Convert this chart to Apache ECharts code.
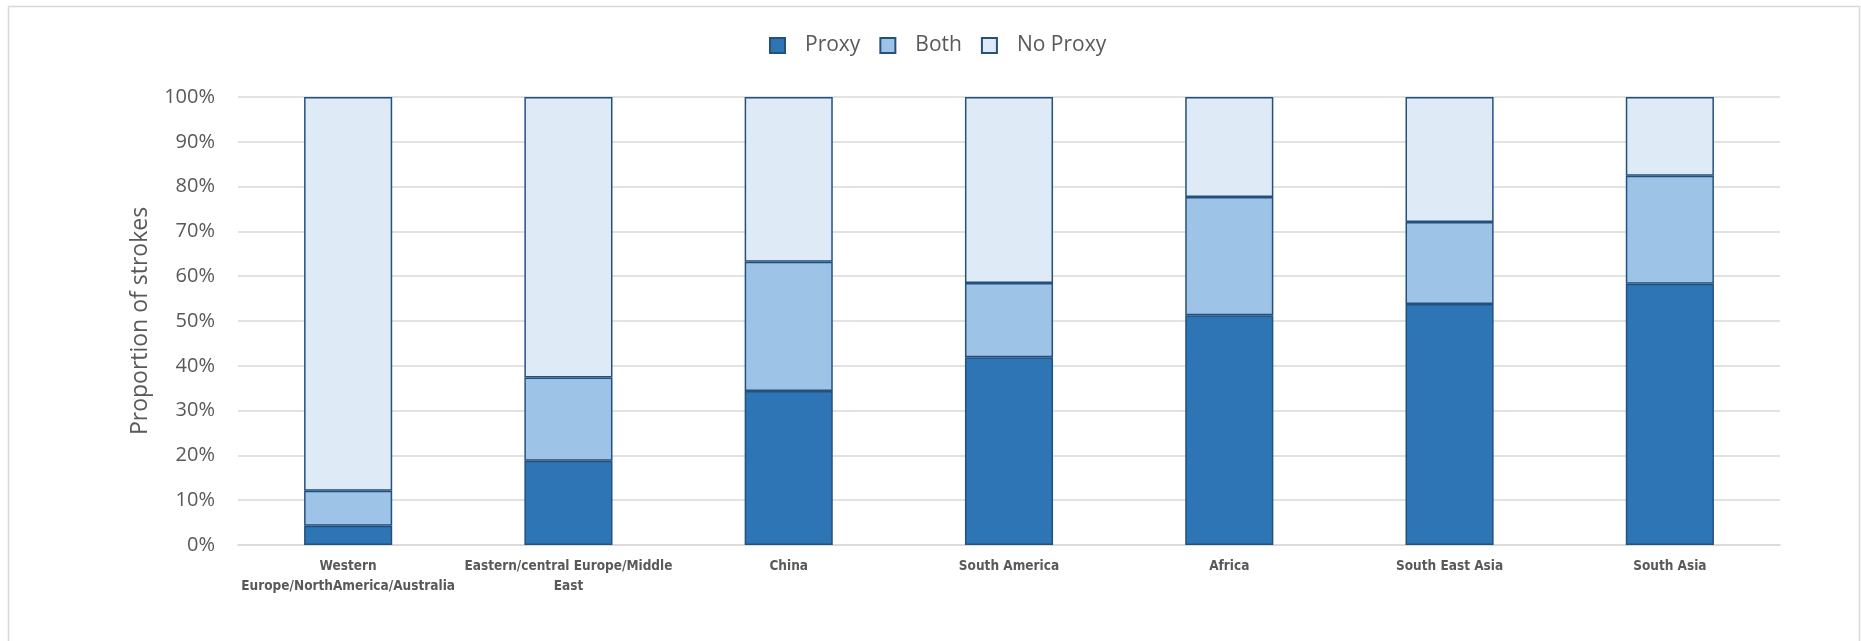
<!DOCTYPE html>
<html>
<head>
<meta charset="utf-8">
<style>
  html, body { margin: 0; padding: 0; background: #ffffff; }
  #chart { width: 1861px; height: 641px; }
</style>
<script src="https://cdn.jsdelivr.net/npm/echarts@6/dist/echarts.min.js"></script>
</head>
<body>
<div id="chart"></div>
<script>
// Regions (two-line labels as they appear under the bars)
const categories = [
  'Western\nEurope/NorthAmerica/Australia',
  'Eastern/central Europe/Middle\nEast',
  'China',
  'South America',
  'Africa',
  'South East Asia',
  'South Asia'
];

// Share of strokes (%) in each group, per region
const proxy   = [4.3, 18.8, 34.4, 41.9, 51.3, 53.8, 58.3];
const both    = [7.8, 18.6, 28.8, 16.6, 26.4, 18.3, 24.1];
const noProxy = [87.9, 62.6, 36.8, 41.5, 22.3, 27.9, 17.6];

const seriesNames = ['Proxy', 'Both', 'No Proxy'];
const seriesColors = ['#2E75B6', '#9DC3E6', '#DEEBF7'];
const edgeColor = '#24507E';
const textColor = '#595959';
const gridColor = '#D9D9D9';
const font = '"Open Sans", "Noto Sans", sans-serif';

const chart = echarts.init(document.getElementById('chart'), null, { renderer: 'canvas' });

const makeSeries = (name, data, color) => ({
  name: name,
  type: 'bar',
  stack: 'total',
  data: data,
  barWidth: '40%',
  itemStyle: { color: color, borderColor: edgeColor, borderWidth: 1.5 },
  emphasis: { disabled: true }
});

chart.setOption({
  animation: false,
  backgroundColor: '#ffffff',
  graphic: [{
    type: 'rect',
    shape: { x: 8.5, y: 6.5, width: 1851, height: 700 },
    style: { fill: 'none', stroke: gridColor, lineWidth: 1.5 },
    silent: true,
    z: -1
  }],
  legend: {
    data: seriesNames,
    left: 769,
    top: 35,
    padding: 0,
    itemWidth: 15,
    itemHeight: 15,
    itemGap: 19,
    icon: 'rect',
    textStyle: { color: textColor, fontSize: 21, fontFamily: font, padding: [0, 0, 0, 15] }
  },
  grid: { left: 238, right: 81, top: 97, bottom: 96, containLabel: false },
  xAxis: {
    type: 'category',
    data: categories,
    axisLine: { lineStyle: { color: gridColor, width: 1.5 } },
    axisTick: { show: false },
    axisLabel: {
      interval: 0,
      margin: 11,
      color: textColor,
      fontSize: 13.5,
      fontWeight: 'bold',
      lineHeight: 20,
      fontFamily: '"Liberation Sans Narrow", "DejaVu Sans Condensed", "Liberation Sans", sans-serif'
    }
  },
  yAxis: {
    type: 'value',
    min: 0,
    max: 100,
    interval: 10,
    name: 'Proportion of strokes',
    nameLocation: 'middle',
    nameGap: 86,
    nameTextStyle: { color: textColor, fontSize: 23, fontFamily: font },
    axisLine: { show: false },
    axisTick: { show: false },
    splitLine: { lineStyle: { color: gridColor, width: 1.5 } },
    axisLabel: {
      margin: 23,
      color: textColor,
      fontSize: 20,
      fontFamily: font,
      formatter: '{value}%'
    }
  },
  series: [
    makeSeries(seriesNames[0], proxy, seriesColors[0]),
    makeSeries(seriesNames[1], both, seriesColors[1]),
    makeSeries(seriesNames[2], noProxy, seriesColors[2])
  ]
});
</script>
</body>
</html>
